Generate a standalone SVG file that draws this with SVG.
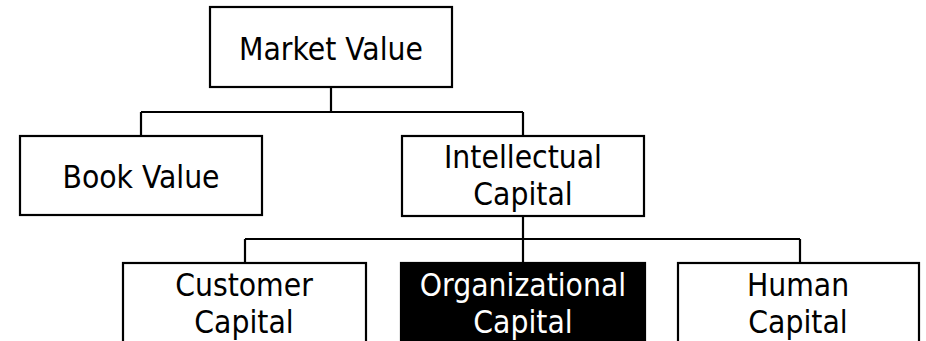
<svg xmlns="http://www.w3.org/2000/svg" width="926" height="341" viewBox="0 0 926 341">
<style>
.box{fill:#fff;stroke:#000;stroke-width:2.2}
.dark{fill:#000;stroke:#000;stroke-width:2.2}
.lbl{font-family:"DejaVu Sans Condensed","DejaVu Sans",sans-serif;font-stretch:condensed;font-size:31.5px;fill:#000;text-anchor:middle}
.inv{fill:#fff}
.conn{fill:none;stroke:#000;stroke-width:2.2}
</style>
<rect width="926" height="341" fill="#fff"/>
<g id="connectors">
<path class="conn" d="M331,87 V112 M141,112 H523 M141,112 V136 M523,112 V136"/>
<path class="conn" d="M523,216 V263 M245,239 H800 M245,239 V263 M800,239 V263"/>
</g>
<g id="market-value">
<rect class="box" x="210" y="7" width="242" height="80"/>
<text class="lbl" x="331" y="60">Market Value</text>
</g>
<g id="book-value">
<rect class="box" x="20" y="136" width="242" height="79"/>
<text class="lbl" x="141" y="188">Book Value</text>
</g>
<g id="intellectual-capital">
<rect class="box" x="402" y="136" width="242" height="80"/>
<text class="lbl" x="523" y="168">Intellectual</text>
<text class="lbl" x="523" y="205">Capital</text>
</g>
<g id="customer-capital">
<rect class="box" x="123" y="263" width="243" height="84"/>
<text class="lbl" x="244" y="296">Customer</text>
<text class="lbl" x="244" y="333">Capital</text>
</g>
<g id="organizational-capital">
<rect class="dark" x="401" y="263" width="244" height="84"/>
<text class="lbl inv" x="523" y="296">Organizational</text>
<text class="lbl inv" x="523" y="333">Capital</text>
</g>
<g id="human-capital">
<rect class="box" x="678" y="263" width="241" height="84"/>
<text class="lbl" x="798" y="296">Human</text>
<text class="lbl" x="798" y="333">Capital</text>
</g>
</svg>
